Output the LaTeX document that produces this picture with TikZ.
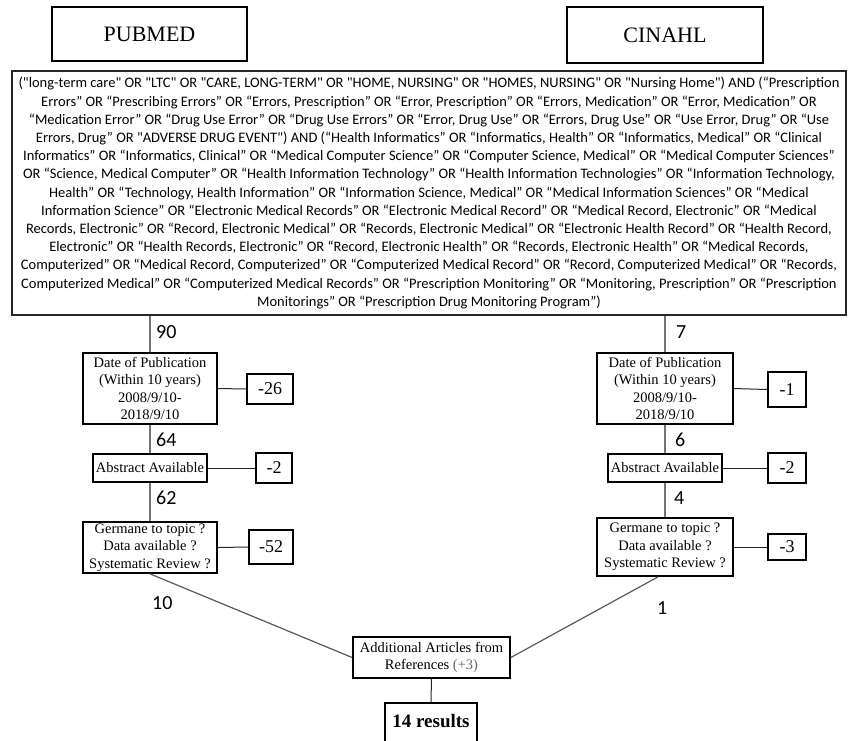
\documentclass[tikz,border=0pt]{standalone}
\usepackage{fontspec}
\setmainfont{Liberation Serif}
\newfontfamily\calfont[Ligatures=TeXOff]{Carlito}
\begin{document}
\begin{tikzpicture}[x=1pt,y=-1pt,
  box/.style={draw=black, line width=1.7pt, inner sep=0pt, align=center, font=\fontsize{14.5}{17.6}\selectfont},
  numbox/.style={draw=black, line width=1.7pt, inner sep=0pt, font=\fontsize{18}{20}\selectfont},
  cnt/.style={font=\calfont\fontsize{20}{22}\selectfont, inner sep=0pt, anchor=west},
  vline/.style={draw=black!55, line width=1.2pt},
  hline/.style={draw=black!85, line width=1pt},
  dline/.style={draw=black!65, line width=1.2pt}]
\useasboundingbox (0,0) rectangle (848,740);
\clip (0,0) rectangle (848,740);
% top sources
\node[box, minimum width=195, minimum height=54, font=\fontsize{22}{24}\selectfont] (pubmed) at (149.5,34) {PUBMED};
\node[box, minimum width=196, minimum height=56, font=\fontsize{22}{24}\selectfont] (cinahl) at (665,35) {CINAHL};
% query
\node[draw=black!85, line width=2.5pt, inner sep=0pt, minimum width=834, minimum height=244, align=center,
      font=\calfont\fontsize{14.5}{18.2}\selectfont] (query) at (429,193) {%
("long-term care" OR "LTC" OR "CARE, LONG-TERM" OR "HOME, NURSING" OR "HOMES, NURSING" OR "Nursing Home") AND (“Prescription\\
Errors” OR “Prescribing Errors” OR “Errors, Prescription” OR “Error, Prescription” OR “Errors, Medication” OR “Error, Medication” OR\\
“Medication Error” OR “Drug Use Error” OR “Drug Use Errors” OR “Error, Drug Use” OR “Errors, Drug Use” OR “Use Error, Drug” OR “Use\\
Errors, Drug” OR "ADVERSE DRUG EVENT") AND (“Health Informatics” OR “Informatics, Health” OR “Informatics, Medical” OR “Clinical\\
Informatics” OR “Informatics, Clinical” OR “Medical Computer Science” OR “Computer Science, Medical” OR “Medical Computer Sciences”\\
OR “Science, Medical Computer” OR “Health Information Technology” OR “Health Information Technologies” OR “Information Technology,\\
Health” OR “Technology, Health Information” OR “Information Science, Medical” OR “Medical Information Sciences” OR “Medical\\
Information Science” OR “Electronic Medical Records” OR “Electronic Medical Record” OR “Medical Record, Electronic” OR “Medical\\
Records, Electronic” OR “Record, Electronic Medical” OR “Records, Electronic Medical” OR “Electronic Health Record” OR “Health Record,\\
Electronic” OR “Health Records, Electronic” OR “Record, Electronic Health” OR “Records, Electronic Health” OR “Medical Records,\\
Computerized” OR “Medical Record, Computerized” OR “Computerized Medical Record” OR “Record, Computerized Medical” OR “Records,\\
Computerized Medical” OR “Computerized Medical Records” OR “Prescription Monitoring” OR “Monitoring, Prescription” OR “Prescription\\
Monitorings” OR “Prescription Drug Monitoring Program”)};
% left column
\node[box, minimum width=134, minimum height=71] (date1) at (150,388.5) {Date of Publication\\(Within 10 years)\\2008/9/10-\\2018/9/10};
\node[numbox, minimum width=46, minimum height=30] (m26) at (270,389) {-26};
\node[box, minimum width=114, minimum height=28] (abs1) at (150,468) {Abstract Available};
\node[numbox, minimum width=36, minimum height=30] (m2a) at (274,468) {-2};
\node[box, minimum width=134, minimum height=51] (germ1) at (150,547.5) {Germane to topic ?\\Data available ?\\Systematic Review ?};
\node[numbox, minimum width=44, minimum height=34] (m52) at (271,547) {-52};
% right column
\node[box, minimum width=136, minimum height=71] (date2) at (665,388.5) {Date of Publication\\(Within 10 years)\\2008/9/10-\\2018/9/10};
\node[numbox, minimum width=38, minimum height=35] (m1) at (787,389.5) {-1};
\node[box, minimum width=114, minimum height=28] (abs2) at (665,468) {Abstract Available};
\node[numbox, minimum width=38, minimum height=30] (m2b) at (787,468) {-2};
\node[box, minimum width=136, minimum height=58] (germ2) at (665,547) {Germane to topic ?\\Data available ?\\Systematic Review ?};
\node[numbox, minimum width=38, minimum height=26] (m3) at (787,547) {-3};
% bottom
\node[box, minimum width=157, minimum height=41] (addl) at (431.5,657.5) {Additional Articles from\\References {\color{black!60}(+3)}};
\node[draw=black, line width=1.7pt, inner xsep=0pt, inner ysep=5pt, minimum width=92, text height=20pt, text depth=40pt,
      anchor=north, font=\bfseries\fontsize{19}{21}\selectfont] (res) at (431,702) {14 results};
% counts
\node[cnt] (n90) at (156,332) {90};
\node[cnt] (n64) at (156,440) {64};
\node[cnt] (n62) at (156,498) {62};
\node[cnt] (n10) at (152,603) {10};
\node[cnt] (n7) at (676,332) {7};
\node[cnt] (n6) at (675,440) {6};
\node[cnt] (n4) at (674,498) {4};
\node[cnt] (n1) at (657,608) {1};
% connectors
\draw[vline] (date1.north) -- (date1.north |- query.south);
\draw[vline] (date1.south) -- (abs1.north);
\draw[vline] (abs1.south) -- (germ1.north);
\draw[vline] (date2.north) -- (date2.north |- query.south);
\draw[vline] (date2.south) -- (abs2.north);
\draw[vline] (abs2.south) -- (germ2.north);
\draw[hline] (date1.east) -- (m26.west);
\draw[hline] (abs1.east) -- (m2a.west);
\draw[hline] (germ1.east) -- (m52.west);
\draw[hline] (date2.east) -- (m1.west);
\draw[hline] (abs2.east) -- (m2b.west);
\draw[hline] (germ2.east) -- (m3.west);
\draw[dline] (germ1.south) -- (addl.west);
\draw[dline] ([xshift=-7pt]germ2.south) -- (addl.east);
\draw[hline] (addl.south) -- (res.north);
\end{tikzpicture}
\end{document}
